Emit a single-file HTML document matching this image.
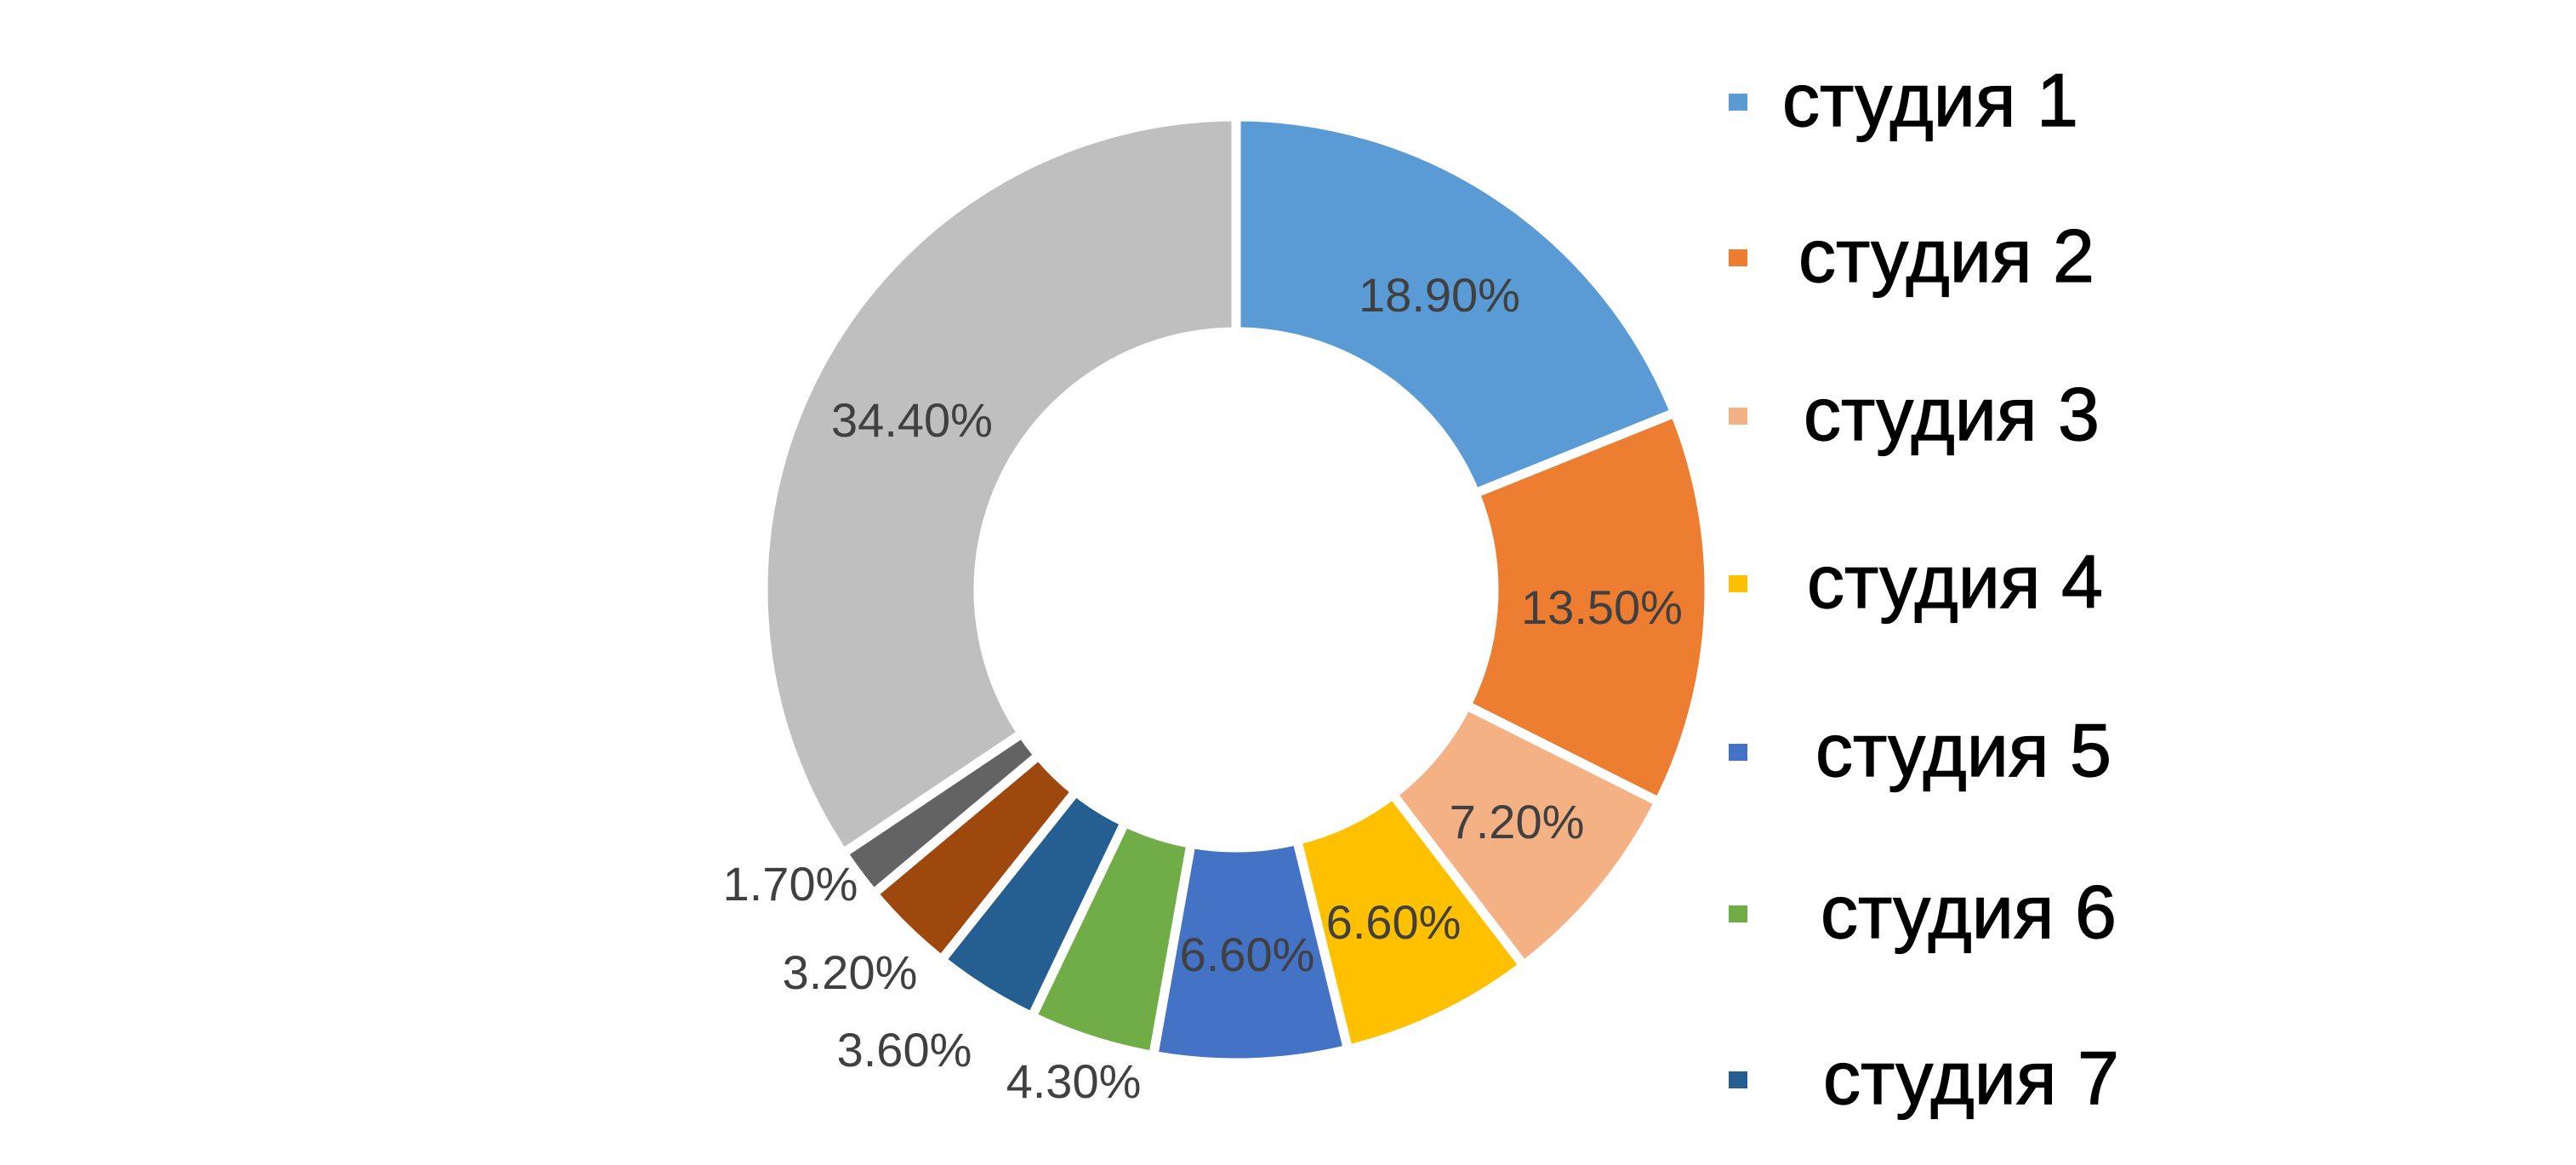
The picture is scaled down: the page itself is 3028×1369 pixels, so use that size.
<!DOCTYPE html>
<html><head><meta charset="utf-8"><style>
html,body{margin:0;padding:0;background:#fff;width:3028px;height:1369px;overflow:hidden}
</style></head><body>
<svg id="s" width="3028" height="1369" xmlns="http://www.w3.org/2000/svg">
<g id="donut"></g>
<g font-family="Liberation Sans, sans-serif" font-size="56" fill="#404040" text-anchor="middle">
<text x="1692" y="366">18.90%</text>
<text x="1072" y="513">34.40%</text>
<text x="1883" y="733">13.50%</text>
<text x="1783" y="985">7.20%</text>
<text x="1638" y="1103">6.60%</text>
<text x="1466" y="1141">6.60%</text>
<text x="929" y="1058">1.70%</text>
<text x="999" y="1162">3.20%</text>
<text x="1063" y="1253">3.60%</text>
<text x="1262" y="1290">4.30%</text>
</g>
<g font-family="Liberation Sans, sans-serif" font-size="88" fill="#000" stroke="#000" stroke-width="1.2">
<rect x="2032" y="110" width="22" height="20" fill="#5B9BD5" stroke="none"/><text x="2095" y="148">студия 1</text>
<rect x="2032" y="293" width="22" height="20" fill="#ED7D31" stroke="none"/><text x="2114" y="331">студия 2</text>
<rect x="2032" y="479" width="22" height="20" fill="#F4B183" stroke="none"/><text x="2120" y="517">студия 3</text>
<rect x="2032" y="676" width="22" height="20" fill="#FFC000" stroke="none"/><text x="2124" y="714">студия 4</text>
<rect x="2032" y="874" width="22" height="20" fill="#4472C4" stroke="none"/><text x="2134" y="912">студия 5</text>
<rect x="2032" y="1064" width="22" height="20" fill="#70AD47" stroke="none"/><text x="2140" y="1102">студия 6</text>
<rect x="2032" y="1259" width="22" height="20" fill="#255E91" stroke="none"/><text x="2143" y="1297">студия 7</text>
</g>
</svg>
<script>
var v=[18.9,13.5,7.2,6.6,6.6,4.3,3.6,3.2,1.7,34.4];
var c=["#5B9BD5","#ED7D31","#F4B183","#FFC000","#4472C4","#70AD47","#255E91","#9E480E","#636363","#BFBFBF"];
var cx=1453,cy=693,R=556,r=303,a=0,h="";
function p(rad,ang){return (cx+rad*Math.sin(ang)).toFixed(1)+","+(cy-rad*Math.cos(ang)).toFixed(1);}
for(var i=0;i<v.length;i++){
 var a0=a/100*2*Math.PI; a+=v[i]; var a1=a/100*2*Math.PI;
 var lg=(a1-a0)>Math.PI?1:0;
 h+='<path d="M'+p(R,a0)+' A'+R+','+R+' 0 '+lg+' 1 '+p(R,a1)+' L'+p(r,a1)+' A'+r+','+r+' 0 '+lg+' 0 '+p(r,a0)+' Z" fill="'+c[i]+'" stroke="#fff" stroke-width="11" stroke-linejoin="miter"/>';
}
document.getElementById("donut").innerHTML=h;
</script>
</body></html>
